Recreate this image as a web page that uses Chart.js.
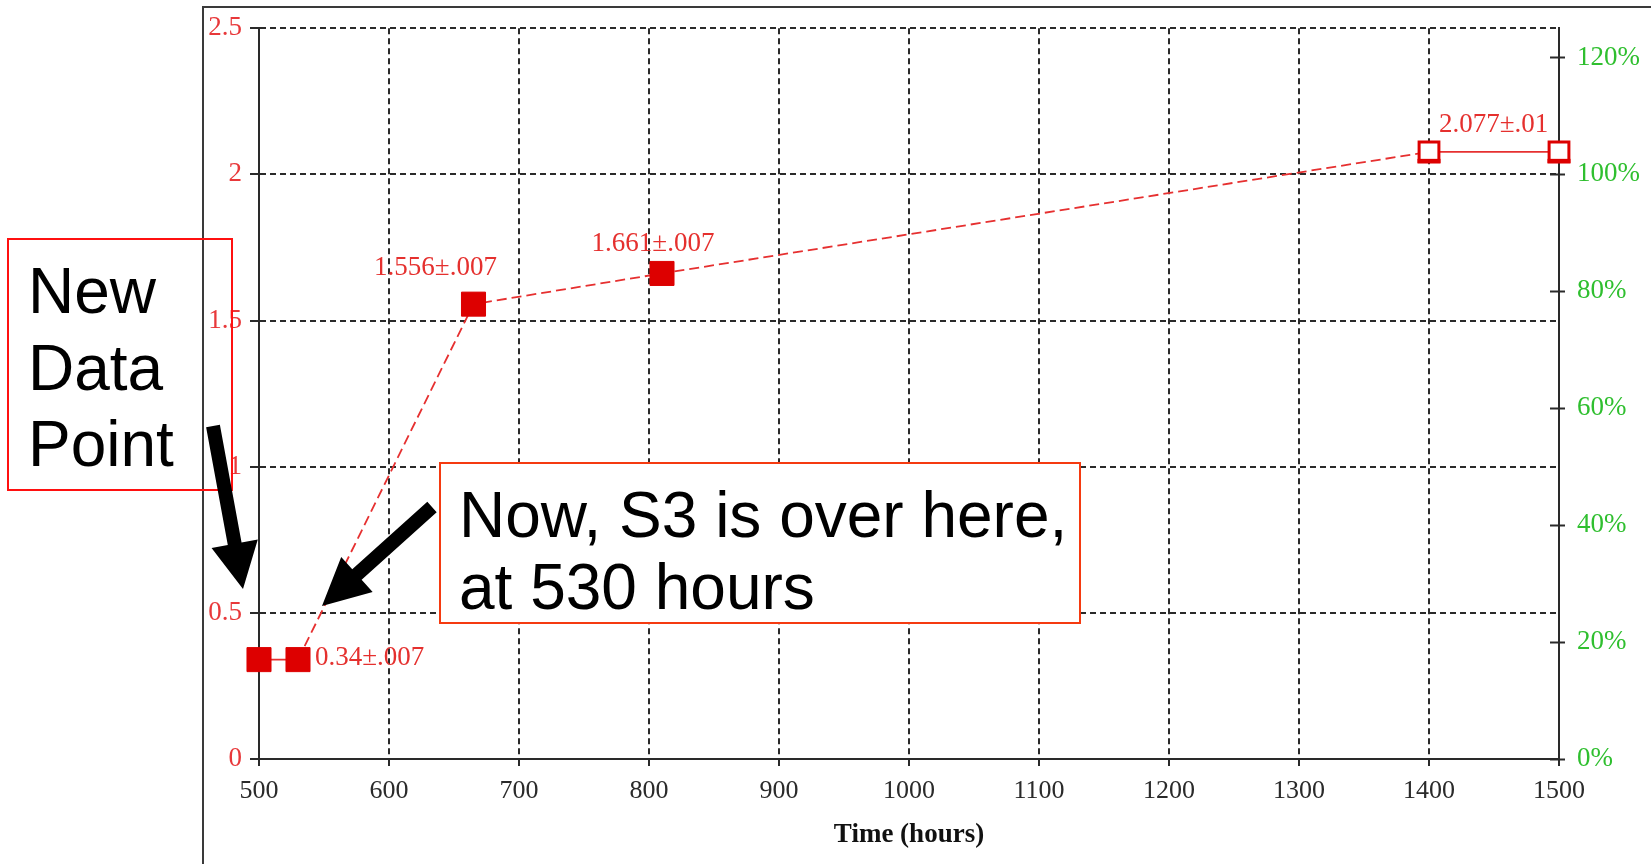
<!DOCTYPE html>
<html><head><meta charset="utf-8">
<script src="https://cdn.jsdelivr.net/npm/chart.js@4"></script>
<style>html,body{margin:0;padding:0;background:#fff;overflow:hidden}</style>
</head><body>
<canvas id="c" width="1651" height="864"></canvas>
<script>
// ---- data ----
const hours = [500, 530, 665, 810, 1400, 1500];
const values = [0.34, 0.34, 1.556, 1.661, 2.077, 2.077];
const valueLabels = ['', '0.34±.007', '1.556±.007', '1.661±.007', '2.077±.01', ''];
const filledMarker = [true, true, true, true, false, false];
const solidSegmentStarts = [0, 4];
const xTickValues = [500, 600, 700, 800, 900, 1000, 1100, 1200, 1300, 1400, 1500];
const yTickValues = [0, 0.5, 1, 1.5, 2, 2.5];
const pctTickValues = [0, 20, 40, 60, 80, 100, 120];
const xAxisTitle = 'Time (hours)';
const noteNewPoint = ['New', 'Data', 'Point'];
const noteS3 = ['Now, S3 is over here,', 'at 530 hours'];

// ---- style ----
const RED = '#dd0000';
const LINE_RED = '#e63030';
const LABEL_RED = '#e5302e';
const GREEN = '#2fbf2f';
const INK = '#2a2a2a';
const SERIF = '"Liberation Serif", "Times New Roman", serif';
const SANS = '"Liberation Sans", Arial, sans-serif';
const labelPlacement = [null, {dx: 17, dy: 5, align: 'left'}, {dx: -38, dy: -29, align: 'center'},
  {dx: -9, dy: -22, align: 'center'}, {dx: 10, dy: -20, align: 'left'}, null];

const valueLabelPlugin = {
  id: 'valueLabels',
  afterDatasetsDraw(chart) {
    const meta = chart.getDatasetMeta(0);
    const ctx = chart.ctx;
    ctx.save();
    ctx.font = '27px ' + SERIF;
    ctx.fillStyle = LABEL_RED;
    ctx.textBaseline = 'alphabetic';
    valueLabels.forEach((t, i) => {
      if (!t || !labelPlacement[i]) return;
      const p = meta.data[i];
      ctx.textAlign = labelPlacement[i].align;
      ctx.fillText(t, p.x + labelPlacement[i].dx, p.y + labelPlacement[i].dy);
    });
    // thicker lower edge on hollow markers
    ctx.fillStyle = RED;
    filledMarker.forEach((f, i) => {
      if (f) return;
      const p = meta.data[i];
      ctx.fillRect(p.x - 11.5, p.y + 7, 23, 4.5);
    });
    ctx.restore();
  }
};

function arrow(ctx, x1, y1, x2, y2, shaft, headLen, headW) {
  const dx = x2 - x1, dy = y2 - y1, L = Math.hypot(dx, dy);
  const ux = dx / L, uy = dy / L, nx = -uy, ny = ux;
  const bx = x2 - ux * headLen, by = y2 - uy * headLen;
  ctx.beginPath();
  ctx.moveTo(x1 + nx * shaft / 2, y1 + ny * shaft / 2);
  ctx.lineTo(bx + nx * shaft / 2, by + ny * shaft / 2);
  ctx.lineTo(bx + nx * headW / 2, by + ny * headW / 2);
  ctx.lineTo(x2, y2);
  ctx.lineTo(bx - nx * headW / 2, by - ny * headW / 2);
  ctx.lineTo(bx - nx * shaft / 2, by - ny * shaft / 2);
  ctx.lineTo(x1 - nx * shaft / 2, y1 - ny * shaft / 2);
  ctx.closePath();
  ctx.fill();
}

const framePlugin = {
  id: 'frame',
  beforeDraw(chart) {
    const ctx = chart.ctx;
    ctx.save();
    ctx.fillStyle = '#fff';
    ctx.fillRect(0, 0, chart.width, chart.height);
    ctx.strokeStyle = '#3a3a3a';
    ctx.lineWidth = 2;
    ctx.beginPath();
    ctx.moveTo(203, 864); ctx.lineTo(203, 7); ctx.lineTo(1651, 7);
    ctx.stroke();
    ctx.restore();
  },
  afterDraw(chart) {
    const ctx = chart.ctx;
    const y2 = chart.scales.y2;
    ctx.save();
    // inward part of right-axis ticks
    ctx.strokeStyle = INK; ctx.lineWidth = 2;
    pctTickValues.forEach(v => {
      const py = Math.round(y2.getPixelForValue(v)) + 0.5;
      ctx.beginPath(); ctx.moveTo(y2.left - 9, py); ctx.lineTo(y2.left, py); ctx.stroke();
    });
    // note box 1 (transparent)
    ctx.strokeStyle = '#ff1010'; ctx.lineWidth = 2;
    ctx.strokeRect(8, 239, 224, 251);
    ctx.fillStyle = '#000';
    ctx.font = '64px ' + SANS;
    ctx.textAlign = 'left'; ctx.textBaseline = 'alphabetic';
    noteNewPoint.forEach((t, i) => ctx.fillText(t, 28, 313 + i * 76.5));
    // note box 2 (white)
    ctx.fillStyle = '#fff';
    ctx.fillRect(440, 463, 640, 160);
    ctx.strokeStyle = '#f53a10'; ctx.lineWidth = 2;
    ctx.strokeRect(440, 463, 640, 160);
    ctx.fillStyle = '#000';
    noteS3.forEach((t, i) => ctx.fillText(t, 459, 537 + i * 72));
    // arrows
    ctx.fillStyle = '#000';
    arrow(ctx, 213, 426, 243, 589, 14, 46, 47);
    arrow(ctx, 432, 507, 322, 606, 14, 47, 47);
    ctx.restore();
  }
};

const ticksFrom = arr => scale => { scale.ticks = arr.map(v => ({value: v})); };

new Chart(document.getElementById('c'), {
  type: 'line',
  data: {
    datasets: [{
      data: hours.map((h, i) => ({x: h, y: values[i]})),
      borderColor: LINE_RED,
      borderWidth: 1.8,
      fill: false,
      tension: 0,
      clip: false,
      pointStyle: 'rect',
      pointRadius: filledMarker.map(f => f ? 17 : 14),
      pointBackgroundColor: filledMarker.map(f => f ? RED : '#fff'),
      pointBorderColor: RED,
      pointBorderWidth: filledMarker.map(f => f ? 1 : 3),
      segment: {
        borderDash: c => solidSegmentStarts.includes(c.p0DataIndex) ? [] : [10, 5]
      }
    }]
  },
  options: {
    responsive: false,
    devicePixelRatio: 1,
    animation: false,
    events: [],
    layout: {padding: {top: 28, left: 0, right: 0, bottom: 0}},
    plugins: {legend: {display: false}, tooltip: {enabled: false}},
    scales: {
      x: {
        type: 'linear', position: 'bottom', min: 500, max: 1500,
        afterBuildTicks: ticksFrom(xTickValues),
        afterFit: s => { s.height = 105; },
        ticks: {callback: v => String(v), font: {family: SERIF, size: 26}, color: INK, padding: 10, maxRotation: 0, autoSkip: false},
        grid: {color: INK, lineWidth: 2, tickLength: 7, tickColor: INK, tickWidth: 2},
        border: {color: INK, width: 2, dash: [6, 4]},
        title: {display: true, text: xAxisTitle, font: {family: SERIF, size: 27, weight: 'bold'}, color: '#111', padding: {top: 0, bottom: 13}}
      },
      y: {
        type: 'linear', position: 'left', min: 0, max: 2.5,
        afterBuildTicks: ticksFrom(yTickValues),
        afterFit: s => { s.width = 259; },
        ticks: {callback: v => String(v), font: {family: SERIF, size: 27}, color: '#e8383a', padding: 8},
        grid: {color: INK, lineWidth: 2, tickLength: 9, tickColor: INK, tickWidth: 2},
        border: {color: INK, width: 2, dash: [6, 4]}
      },
      y2: {
        type: 'linear', position: 'right', min: 0, max: 125,
        afterBuildTicks: ticksFrom(pctTickValues),
        afterFit: s => { s.width = 92; },
        ticks: {callback: v => v + '%', font: {family: SERIF, size: 27}, color: GREEN, padding: 12},
        grid: {drawOnChartArea: false, tickLength: 6, tickColor: INK, tickWidth: 2},
        border: {color: INK, width: 2}
      }
    }
  },
  plugins: [framePlugin, valueLabelPlugin]
});
</script>
</body></html>
